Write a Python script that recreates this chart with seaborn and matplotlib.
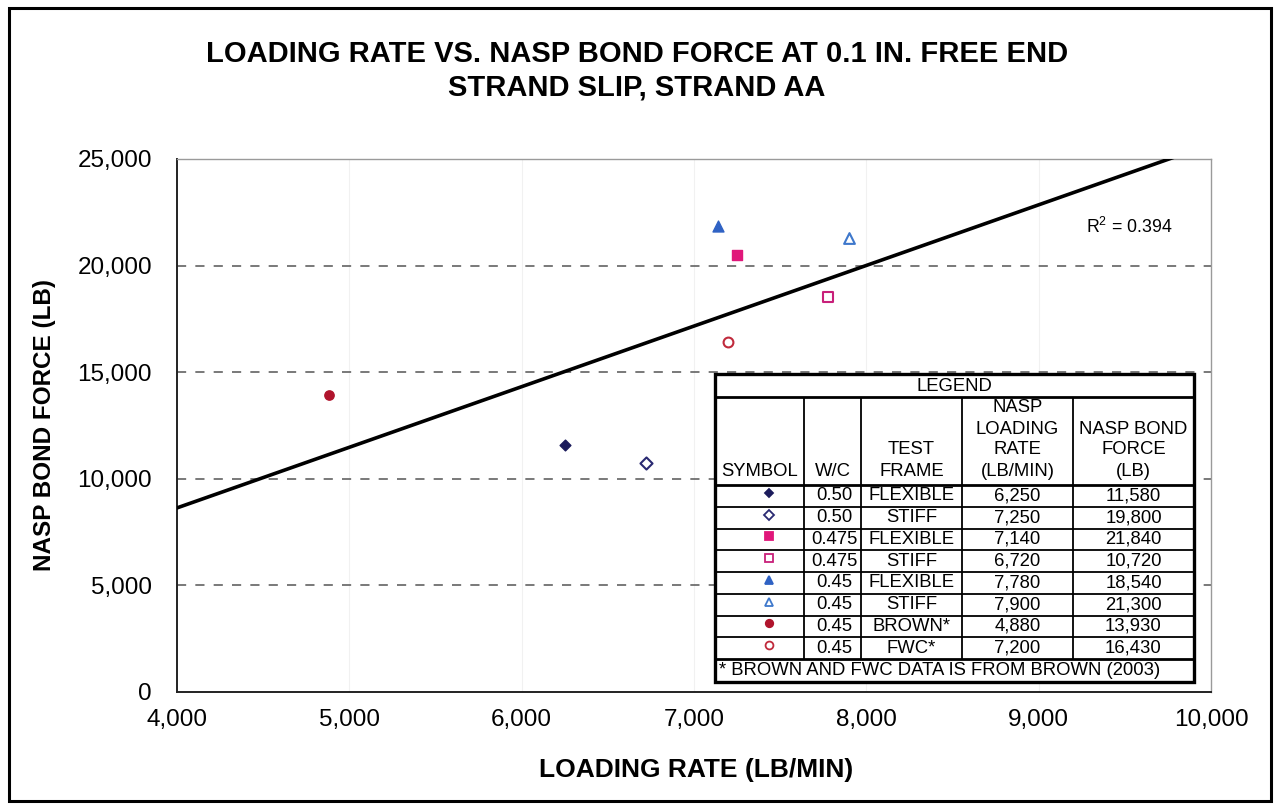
import numpy as np
import pandas as pd
import matplotlib
matplotlib.use("Agg")
import matplotlib.pyplot as plt
import seaborn as sns
from matplotlib.lines import Line2D
from matplotlib.patches import Rectangle

# ---- data -------------------------------------------------------------
series = ["flex_050", "stiff_050", "flex_0475", "stiff_0475",
          "flex_045", "stiff_045", "brown", "fwc"]
loading_rate = [6250, 6720, 7250, 7780, 7140, 7900, 4880, 7200]
bond_force = [11580, 10720, 20500, 18540, 21840, 21300, 13930, 16400]

x_ticks = [4000, 5000, 6000, 7000, 8000, 9000, 10000]
y_ticks = [0, 5000, 10000, 15000, 20000, 25000]

# legend table contents
tbl_wc = ["0.50", "0.50", "0.475", "0.475", "0.45", "0.45", "0.45", "0.45"]
tbl_frame = ["FLEXIBLE", "STIFF", "FLEXIBLE", "STIFF",
             "FLEXIBLE", "STIFF", "BROWN*", "FWC*"]
tbl_rate = ["6,250", "7,250", "7,140", "6,720", "7,780", "7,900", "4,880", "7,200"]
tbl_force = ["11,580", "19,800", "21,840", "10,720", "18,540", "21,300", "13,930", "16,430"]

# marker styles per series: (marker, colour, filled, size)
styles = {
    "flex_050":   ("D", "#1c1c5c", True, 30),
    "stiff_050":  ("D", "#2a2a72", False, 38),
    "flex_0475":  ("s", "#e0177a", True, 62),
    "stiff_0475": ("s", "#c8207a", False, 55),
    "flex_045":   ("^", "#2f62c4", True, 62),
    "stiff_045":  ("^", "#3e78cc", False, 60),
    "brown":      ("o", "#b0142c", True, 45),
    "fwc":        ("o", "#c02a3c", False, 50),
}

df = pd.DataFrame({"series": series, "rate": loading_rate, "force": bond_force})

# ---- figure -----------------------------------------------------------
sns.set_style("white")
plt.rcParams["font.family"] = ["Liberation Sans", "DejaVu Sans"]
plt.rcParams["mathtext.fontset"] = "custom"
plt.rcParams["mathtext.rm"] = "Liberation Sans"
for key in ("text.color", "axes.labelcolor", "xtick.color", "ytick.color"):
    plt.rcParams[key] = "black"

W, H = 1278, 807
fig = plt.figure(figsize=(W / 100, H / 100), dpi=100)


def fx(px):
    return px / W


def fy(py):
    return 1 - py / H


ax = fig.add_axes([fx(177), fy(692), fx(1211) - fx(177), fy(159) - fy(692)])
ax.set_xlim(4000, 10000)
ax.set_ylim(0, 25000)

# grid
for yv in y_ticks[1:-1]:
    ax.axhline(yv, color="#555555", lw=1.1, ls=(0, (6, 6)), zorder=0.5)
for xv in x_ticks[1:-1]:
    ax.axvline(xv, color="#f1f1f1", lw=0.8, zorder=0.4)

# points
for name, sub in df.groupby("series", sort=False):
    marker, col, filled, size = styles[name]
    sns.scatterplot(data=sub, x="rate", y="force", marker=marker, s=size,
                    facecolor=col if filled else "white", edgecolor=col,
                    linewidth=1.0 if filled else 1.5, ax=ax, zorder=4,
                    legend=False)

# linear trend line across the full x range
sns.regplot(data=df, x="rate", y="force", scatter=False, ci=None,
            truncate=False, color="black", line_kws=dict(lw=2.6, zorder=3),
            ax=ax)
ax.set_xlim(4000, 10000)
ax.set_ylim(0, 25000)

r2 = np.corrcoef(df["rate"], df["force"])[0, 1] ** 2
fig.text(fx(1086), fy(227), f"R$^2$ = {r2:.3f}", fontsize=12.8,
         ha="left", va="center")

# axes styling
ax.set_xticks(x_ticks)
ax.set_yticks(y_ticks)
ax.set_xticklabels([f"{v:,}" for v in x_ticks], fontsize=17.5)
ax.set_yticklabels([f"{v:,}" for v in y_ticks], fontsize=17.5)
ax.set_xticks(np.arange(4000, 10001, 200), minor=True)
ax.set_yticks(np.arange(0, 25001, 1000), minor=True)
ax.tick_params(axis="both", which="major", direction="out", length=4,
               width=1.0, color="#333333")
ax.tick_params(axis="y", which="major", pad=14)
ax.tick_params(axis="x", which="major", pad=8)
ax.tick_params(axis="both", which="minor", direction="out", length=3,
               width=0.8, color="#555555")
for side in ("left", "bottom"):
    ax.spines[side].set_color("#222222")
    ax.spines[side].set_linewidth(1.4)
for side in ("top", "right"):
    ax.spines[side].set_color("#9a9a9a")
    ax.spines[side].set_linewidth(1.0)

ax.set_xlabel("")
ax.set_ylabel("")
fig.text(fx(696), fy(770), "LOADING RATE (LB/MIN)", fontsize=19,
         fontweight="bold", ha="center", va="center")
fig.text(fx(45), fy(425), "NASP BOND FORCE (LB)", fontsize=17.5,
         fontweight="bold", ha="center", va="center", rotation=90)

# title
fig.text(fx(637), fy(54), "LOADING RATE VS. NASP BOND FORCE AT 0.1 IN. FREE END",
         fontsize=21, fontweight="bold", ha="center", va="center")
fig.text(fx(637), fy(88), "STRAND SLIP, STRAND AA",
         fontsize=21, fontweight="bold", ha="center", va="center")

# ---- legend table -----------------------------------------------------
tx0, tx1 = 715, 1194
ty0, ty1 = 374, 682
col_edges = [715, 804, 861, 962, 1073, 1194]
row_top = 485
row_h = 21.75
foot_top = row_top + 8 * row_h


def hline(y, x0, x1, lw):
    fig.add_artist(Line2D([fx(x0), fx(x1)], [fy(y), fy(y)], color="black",
                          lw=lw, solid_capstyle="butt", zorder=6))


def vline(x, y0, y1, lw):
    fig.add_artist(Line2D([fx(x), fx(x)], [fy(y0), fy(y1)], color="black",
                          lw=lw, solid_capstyle="butt", zorder=6))


fig.add_artist(Rectangle((fx(tx0), fy(ty1)), fx(tx1) - fx(tx0), fy(ty0) - fy(ty1),
                         facecolor="white", edgecolor="black", lw=2.4, zorder=5))
hline(397, tx0, tx1, 2.0)
hline(row_top, tx0, tx1, 2.0)
for i in range(1, 8):
    hline(row_top + i * row_h, tx0, tx1, 1.3)
hline(foot_top, tx0, tx1, 2.0)
for xc in col_edges[1:-1]:
    vline(xc, 397, foot_top, 1.3)

tfs = 13.3
fig.text(fx(954), fy(386), "LEGEND", fontsize=tfs, ha="center", va="center", zorder=7)
hdr_lines = [408, 429, 450, 472]
centers = [(col_edges[i] + col_edges[i + 1]) / 2 for i in range(5)]
fig.text(fx(centers[0]), fy(hdr_lines[3]), "SYMBOL", fontsize=tfs, ha="center", va="center", zorder=7)
fig.text(fx(centers[1]), fy(hdr_lines[3]), "W/C", fontsize=tfs, ha="center", va="center", zorder=7)
for txt, yl in zip(["TEST", "FRAME"], hdr_lines[2:]):
    fig.text(fx(centers[2]), fy(yl), txt, fontsize=tfs, ha="center", va="center", zorder=7)
for txt, yl in zip(["NASP", "LOADING", "RATE", "(LB/MIN)"], hdr_lines):
    fig.text(fx(centers[3]), fy(yl), txt, fontsize=tfs, ha="center", va="center", zorder=7)
for txt, yl in zip(["NASP BOND", "FORCE", "(LB)"], hdr_lines[1:]):
    fig.text(fx(centers[4]), fy(yl), txt, fontsize=tfs, ha="center", va="center", zorder=7)

for i, name in enumerate(series):
    yc = row_top + (i + 0.5) * row_h
    marker, col, filled, size = styles[name]
    fig.add_artist(Line2D([fx(769)], [fy(yc - 3)], marker=marker, ms=np.sqrt(size) * 0.8,
                          markerfacecolor=col if filled else "white",
                          markeredgecolor=col, markeredgewidth=1.3,
                          linestyle="none", zorder=7))
    fig.text(fx(centers[1] + 2), fy(yc), tbl_wc[i], fontsize=tfs, ha="center", va="center", zorder=7)
    fig.text(fx(centers[2]), fy(yc), tbl_frame[i], fontsize=tfs, ha="center", va="center", zorder=7)
    fig.text(fx(centers[3]), fy(yc), tbl_rate[i], fontsize=tfs, ha="center", va="center", zorder=7)
    fig.text(fx(centers[4]), fy(yc), tbl_force[i], fontsize=tfs, ha="center", va="center", zorder=7)

fig.text(fx(719), fy((foot_top + ty1) / 2), "* BROWN AND FWC DATA IS FROM BROWN (2003)",
         fontsize=tfs, ha="left", va="center", zorder=7)

# outer frame
fig.add_artist(Rectangle((fx(9), fy(801)), fx(1271) - fx(9), fy(8) - fy(801),
                         facecolor="none", edgecolor="black", lw=2.2, zorder=8))

fig.savefig("out.png", dpi=100, facecolor="white")
